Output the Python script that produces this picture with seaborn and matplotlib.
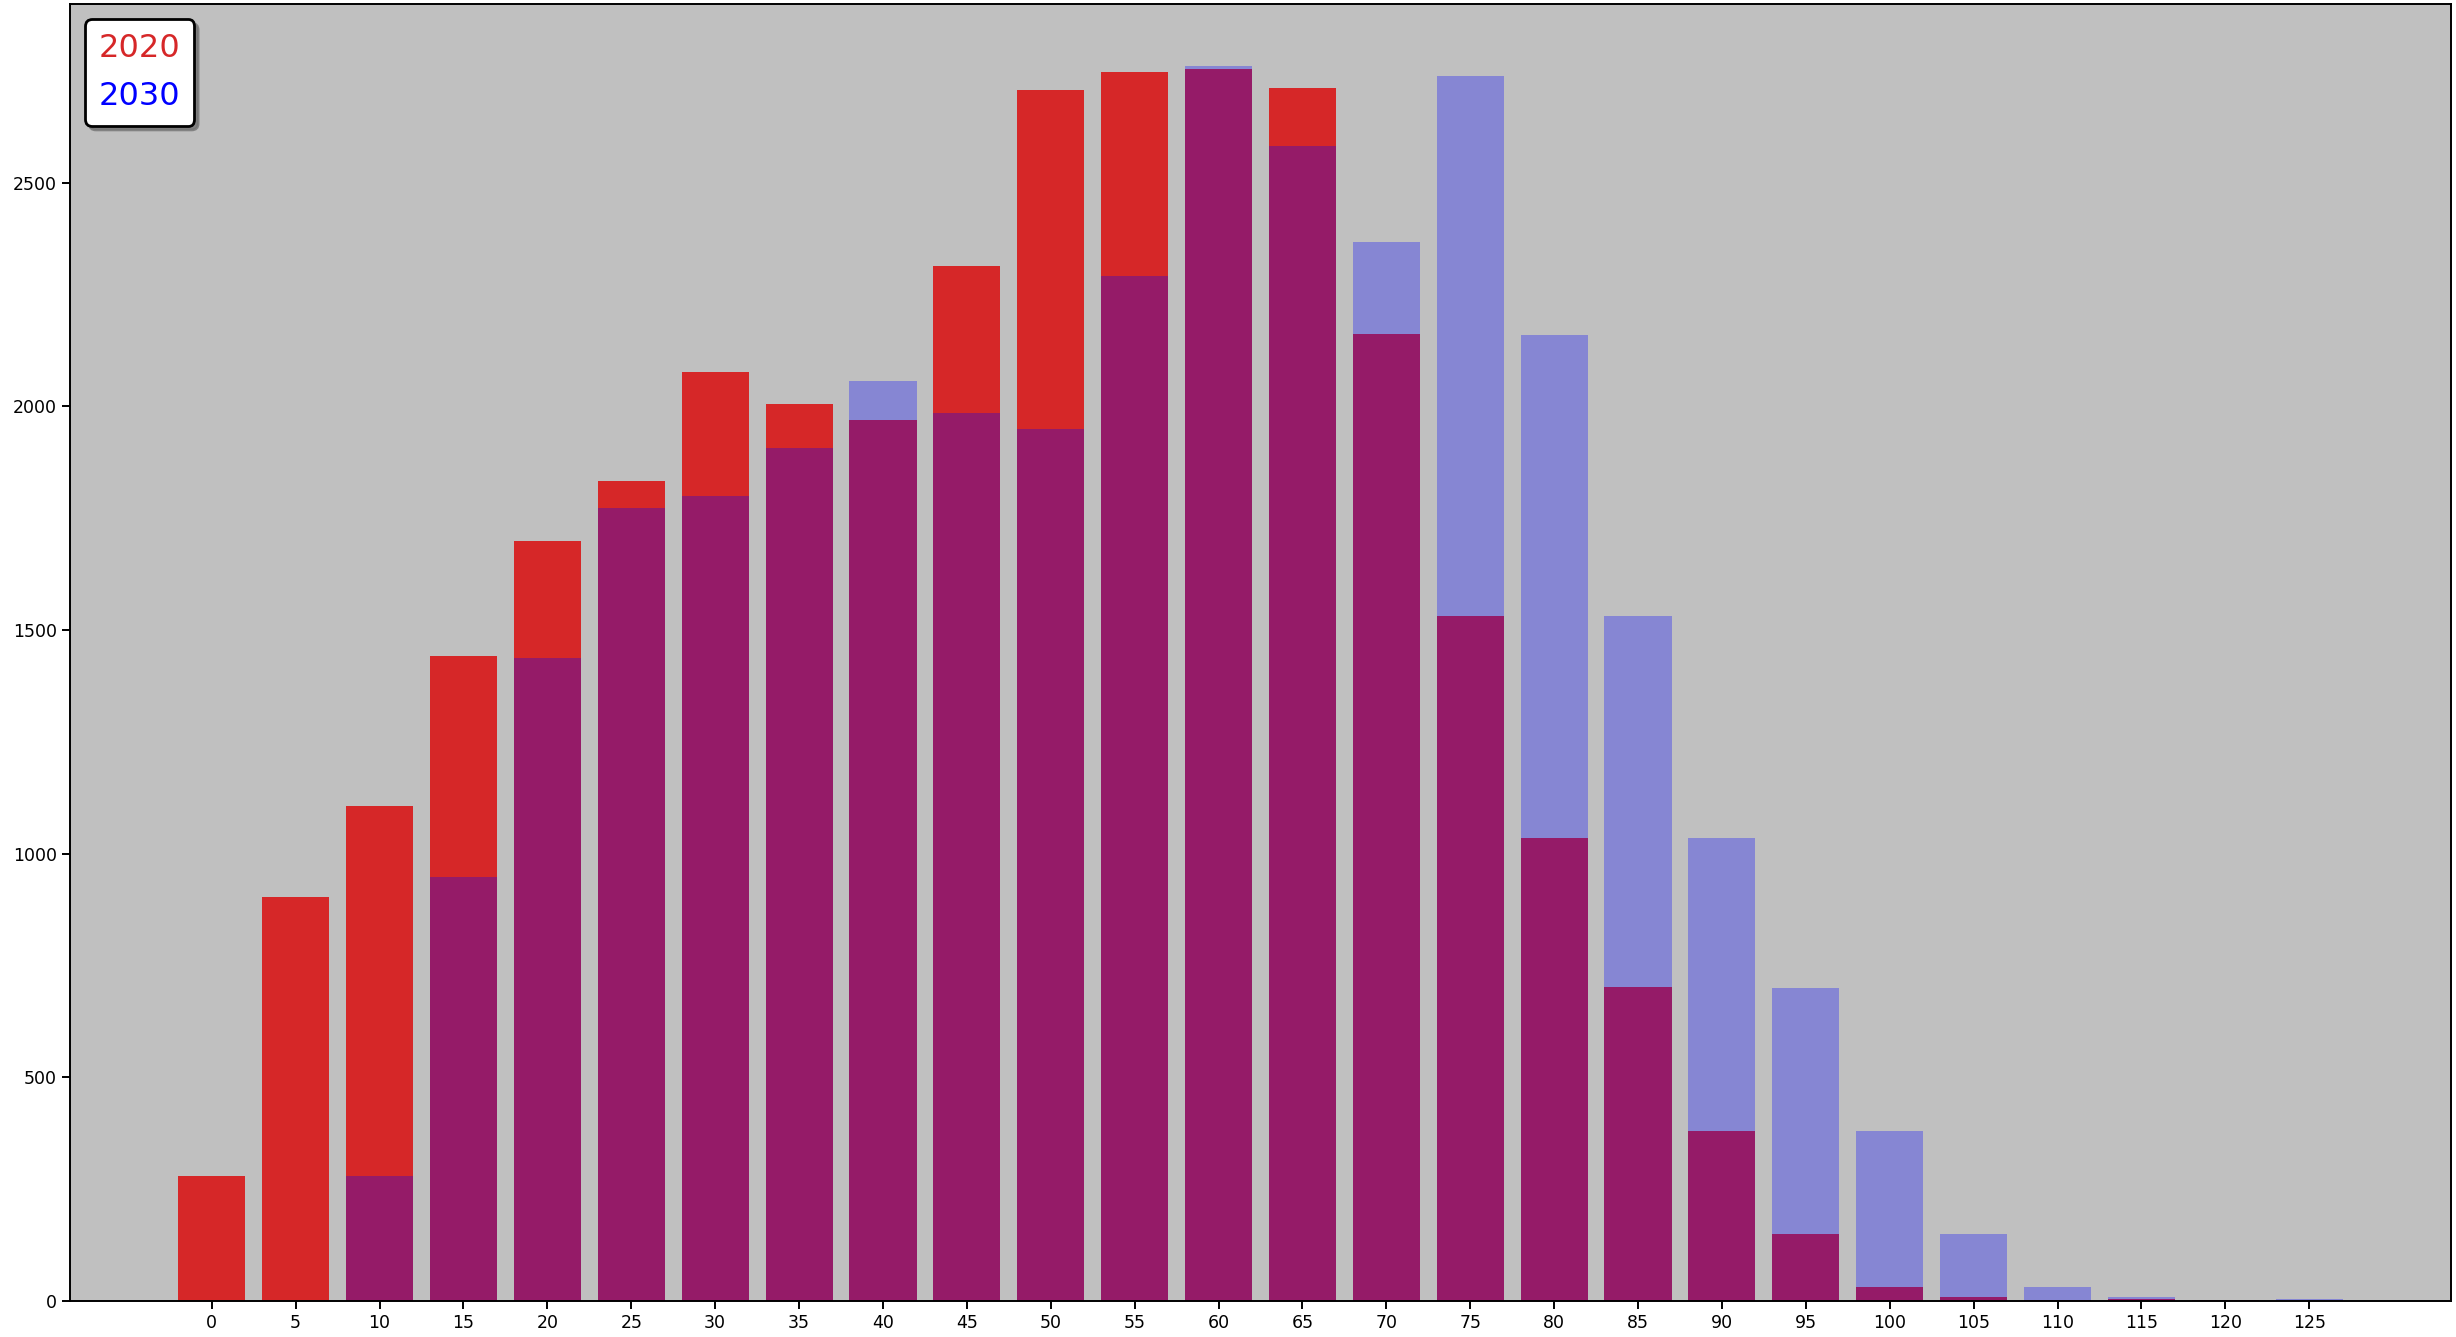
import matplotlib
matplotlib.use("Agg")
import matplotlib.pyplot as plt
import seaborn as sns
import numpy as np
import pandas as pd

ages = [0, 5, 10, 15, 20, 25, 30, 35, 40, 45, 50, 55, 60, 65, 70, 75, 80, 85, 90, 95, 100, 105, 110, 115, 120, 125]
pop_2020 = [280, 903, 1106, 1441, 1698, 1832, 2077, 2005, 1969, 2314, 2707, 2746, 2753, 2712, 2161, 1530, 1036, 701, 379, 149, 32, 9, 3, 5, 1.5, 0]
pop_2030 = [0, 0, 280, 948, 1437, 1772, 1800, 1906, 2056, 1984, 1950, 2290, 2761, 2582, 2367, 2739, 2160, 1530, 1035, 700, 379, 149, 32, 9, 1.5, 4]
series_labels = ["2020", "2030"]
series_colors = ["#d62728", "blue"]

df20 = pd.DataFrame({"age": ages, "pop": pop_2020})
df30 = pd.DataFrame({"age": ages, "pop": pop_2030})

fig = plt.figure(figsize=(24.56, 13.37), dpi=100)
ax = fig.add_axes([70 / 2456, 36 / 1337, (2451 - 70) / 2456, (1301 - 4) / 1337])
ax.set_facecolor("#c0c0c0")

sns.barplot(data=df20, x="age", y="pop", native_scale=True, width=0.8,
            color=series_colors[0], saturation=1, errorbar=None, linewidth=0,
            ax=ax, label=series_labels[0])
sns.barplot(data=df30, x="age", y="pop", native_scale=True, width=0.8,
            color=series_colors[1], saturation=1, errorbar=None, linewidth=0,
            alpha=0.3, ax=ax, label=series_labels[1])

step = ages[1] - ages[0]
span = (ages[-1] + 0.4 * step) - (ages[0] - 0.4 * step)
ax.set_xlim(ages[0] - 0.4 * step - 0.05 * span, ages[-1] + 0.4 * step + 0.05 * span)
ax.set_ylim(0, max(max(pop_2020), max(pop_2030)) * 1.05)
ax.set_xticks(ages)
ax.set_xticklabels([str(a) for a in ages])
ax.set_yticks([0, 500, 1000, 1500, 2000, 2500])
ax.set_xlabel("")
ax.set_ylabel("")
ax.tick_params(labelsize=12.5, length=6, width=1.4)
for s in ax.spines.values():
    s.set_linewidth(1.4)
    s.set_color("black")

handles, labels = ax.get_legend_handles_labels()
leg = ax.legend(handles, series_labels, loc="upper left", fontsize=23,
                handlelength=0, handletextpad=0,
                shadow={"ox": 3, "oy": -3, "color": "0.45", "alpha": 0.8},
                fancybox=True, framealpha=1, facecolor="white", edgecolor="black",
                borderaxespad=0.48, labelspacing=0.55, borderpad=0.42)
leg.get_frame().set_linewidth(2)
for h in leg.legend_handles:
    h.set_visible(False)
for t, c in zip(leg.get_texts(), series_colors):
    t.set_color(c)

fig.savefig("out.png", dpi=100)
